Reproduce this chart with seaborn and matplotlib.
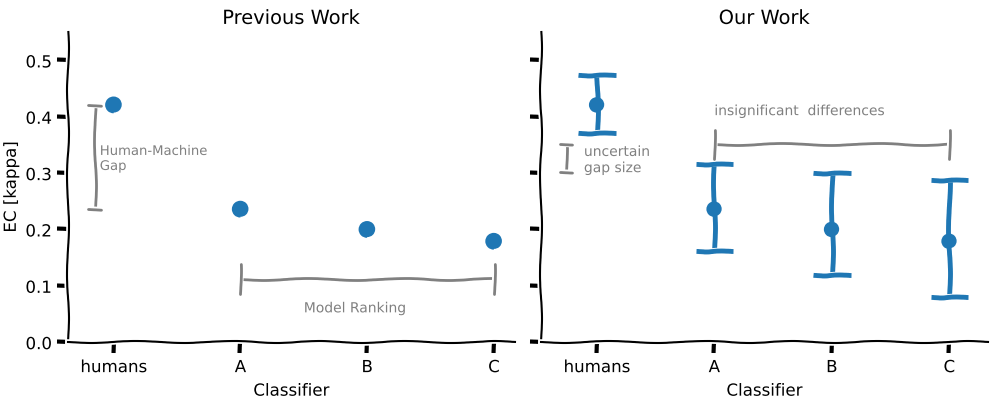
import matplotlib
matplotlib.use('Agg')
import matplotlib.pyplot as plt
import numpy as np
import pandas as pd
import seaborn as sns

# values
classifiers = ['humans', 'A', 'B', 'C']
ec_kappa = [0.421, 0.236, 0.200, 0.179]
ci_low = [0.371, 0.161, 0.119, 0.080]
ci_high = [0.474, 0.316, 0.300, 0.287]
y_ticks = [0.0, 0.1, 0.2, 0.3, 0.4, 0.5]

df = pd.DataFrame({'Classifier': classifiers, 'EC': ec_kappa,
                   'lo': ci_low, 'hi': ci_high})

blue = '#1f77b4'
grey = '#808080'

sns.set_style('ticks')
plt.xkcd()
plt.rcParams['font.family'] = ['DejaVu Sans']
plt.rcParams['axes.spines.top'] = False
plt.rcParams['axes.spines.right'] = False
for key in ('text.color', 'axes.labelcolor', 'xtick.color', 'ytick.color'):
    plt.rcParams[key] = 'black'

fig = plt.figure(figsize=(9.96, 4.03), dpi=100)
ax1 = fig.add_axes([0.068, 0.151, 0.449, 0.769])
ax2 = fig.add_axes([0.543, 0.151, 0.449, 0.769])

# --- Previous Work ---
sns.scatterplot(data=df, x='Classifier', y='EC', ax=ax1, s=120,
                color=blue, edgecolor='none', zorder=3)
ax1.set_xlim(-0.363, 3.166)

# Human-Machine gap bracket
bx = -0.15
ax1.plot([bx, bx], [ec_kappa[1], ec_kappa[0]], color=grey, lw=2)
for yy in (ec_kappa[1], ec_kappa[0]):
    ax1.plot([bx - 0.05, bx + 0.05], [yy, yy], color=grey, lw=2)
ax1.text(bx + 0.04, 0.35, 'Human-Machine\nGap', color=grey, fontsize=9.5,
         va='top', ha='left', linespacing=1.2)

# model ranking bracket
ax1.plot([1, 3], [0.112, 0.112], color=grey, lw=2)
for xx in (1, 3):
    ax1.plot([xx, xx], [0.085, 0.138], color=grey, lw=2)
ax1.text(1.5, 0.06, 'Model Ranking', color=grey, fontsize=10,
         ha='left', va='center')

ax1.set_title('Previous Work', fontsize=14)
ax1.set_ylabel('EC [kappa]', fontsize=12)

# --- Our Work ---
pos = np.arange(len(classifiers))
yerr = [np.array(ec_kappa) - np.array(ci_low),
        np.array(ci_high) - np.array(ec_kappa)]
ax2.errorbar(pos, ec_kappa, yerr=yerr, fmt='none', ecolor=blue,
             elinewidth=3.5, capsize=13.5, capthick=3.5, zorder=2)
sns.scatterplot(data=df, x='Classifier', y='EC', ax=ax2, s=100,
                color=blue, edgecolor='none', zorder=3)
ax2.set_xlim(-0.477, 3.33)

# uncertain gap bracket
gx = -0.26
ax2.plot([gx, gx], [0.302, 0.352], color=grey, lw=2)
for yy in (0.302, 0.352):
    ax2.plot([gx - 0.05, gx + 0.05], [yy, yy], color=grey, lw=2)
ax2.text(gx + 0.15, 0.35, 'uncertain\ngap size', color=grey, fontsize=10,
         va='top', ha='left', linespacing=1.2)

# insignificant differences bracket
ax2.plot([1, 3], [0.351, 0.351], color=grey, lw=2)
for xx in (1, 3):
    ax2.plot([xx, xx], [0.325, 0.377], color=grey, lw=2)
ax2.text(1, 0.41, 'insignificant  differences', color=grey, fontsize=10,
         ha='left', va='center')

ax2.set_title('Our Work', fontsize=14)
ax2.set_ylabel('')

for ax in (ax1, ax2):
    ax.set_ylim(0, 0.55)
    ax.set_yticks(y_ticks)
    ax.set_xlabel('Classifier', fontsize=12)
    ax.tick_params(labelsize=12, colors='black')
    sns.despine(ax=ax)
ax1.set_yticklabels([f'{v:.1f}' for v in y_ticks])
ax2.set_yticklabels([])

fig.savefig('out.png', dpi=100)
